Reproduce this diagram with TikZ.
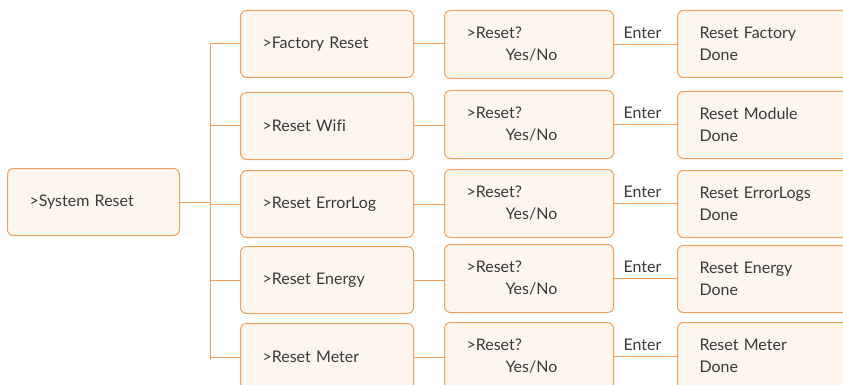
\documentclass[tikz,border=0pt]{standalone}
\usepackage{fontspec}
\setmainfont[Ligatures=NoCommon]{Lato}
\usepackage{tikz}
\definecolor{boxOrange}{RGB}{245, 160, 90}
\definecolor{boxFill}{RGB}{253, 246, 239}
\definecolor{textGray}{RGB}{58, 58, 58}

\tikzset{
  menuBox/.style={draw=boxOrange, fill=boxFill, line width=1pt, rounded corners=6pt,
    anchor=north west, minimum height=67pt, inner xsep=22pt, align=left,
    text=textGray, font=\fontsize{16}{22}\selectfont},
  link/.style={draw=boxOrange, line width=1pt},
  enterLabel/.style={above, text=textGray, font=\fontsize{16}{18}\selectfont, inner sep=5pt, xshift=-3pt}
}

\begin{document}
\begin{tikzpicture}[x=1pt, y=-1pt]
        \useasboundingbox (0,0) rectangle (843,385);
        \clip (0,0) rectangle (843,385);
        \node[menuBox, text width=128pt] (sys) at (7,168) {>System Reset};
        \node[menuBox, text width=129pt] (factory) at (240,10) {>Factory Reset};
        \node[menuBox, text width=129pt] (wifi) at (240,92) {>Reset Wifi};
        \node[menuBox, text width=129pt] (errlog) at (240,170) {>Reset ErrorLog};
        \node[menuBox, text width=129pt] (energy) at (240,246) {>Reset Energy};
        \node[menuBox, text width=129pt] (meter) at (240,323) {>Reset Meter};
        \node[menuBox, text width=125pt, minimum height=68pt] (askF) at (444,10) {>Reset?\\\hspace*{39pt}Yes/No};
        \node[menuBox, text width=125pt, minimum height=68pt] (askW) at (444,90) {>Reset?\\\hspace*{39pt}Yes/No};
        \node[menuBox, text width=125pt, minimum height=68pt] (askL) at (444,169) {>Reset?\\\hspace*{39pt}Yes/No};
        \node[menuBox, text width=125pt, minimum height=68pt] (askE) at (444,244) {>Reset?\\\hspace*{39pt}Yes/No};
        \node[menuBox, text width=125pt, minimum height=68pt] (askM) at (444,322) {>Reset?\\\hspace*{39pt}Yes/No};
        \node[menuBox, text width=128pt, minimum height=67pt] (doneF) at (677,10) {Reset Factory\\Done};
        \node[menuBox, text width=128pt, minimum height=67pt] (doneW) at (677,91) {Reset Module\\Done};
        \node[menuBox, text width=128pt, minimum height=67pt] (doneL) at (677,170) {Reset ErrorLogs\\Done};
        \node[menuBox, text width=128pt, minimum height=67pt] (doneE) at (677,245) {Reset Energy\\Done};
        \node[menuBox, text width=128pt, minimum height=67pt] (doneM) at (677,322) {Reset Meter\\Done};
        \coordinate (trunkTop) at (210,43);
        \coordinate (trunkBot) at (210,360);
        \draw[link] (trunkTop) -- (trunkBot);
        \draw[link] (sys.east) -- (sys.east -| trunkTop);
        \draw[link] (factory.west) -- (factory.west -| trunkTop);
        \draw[link] (wifi.west) -- (wifi.west -| trunkTop);
        \draw[link] (errlog.west) -- (errlog.west -| trunkTop);
        \draw[link] (energy.west) -- (energy.west -| trunkTop);
        \draw[link] (meter.west) -- (meter.west -| trunkTop);
        \draw[link] (factory.east) -- (factory.east -| askF.west);
        \draw[link] (wifi.east) -- (wifi.east -| askW.west);
        \draw[link] (errlog.east) -- (errlog.east -| askL.west);
        \draw[link] (energy.east) -- (energy.east -| askE.west);
        \draw[link] (meter.east) -- (meter.east -| askM.west);
        \draw[link] (askF.east) -- node[enterLabel] {Enter} (askF.east -| doneF.west);
        \draw[link] (askW.east) -- node[enterLabel] {Enter} (askW.east -| doneW.west);
        \draw[link] (askL.east) -- node[enterLabel] {Enter} (askL.east -| doneL.west);
        \draw[link] (askE.east) -- node[enterLabel] {Enter} (askE.east -| doneE.west);
        \draw[link] (askM.east) -- node[enterLabel] {Enter} (askM.east -| doneM.west);
      \end{tikzpicture}
\end{document}
